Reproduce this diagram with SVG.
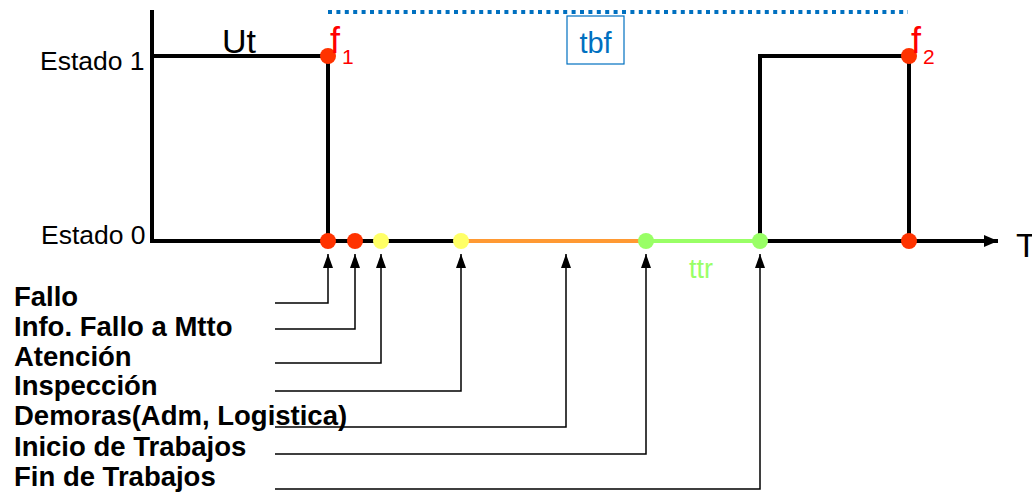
<svg xmlns="http://www.w3.org/2000/svg" width="1032" height="493" viewBox="0 0 1032 493">
<defs>
<marker id="ah" viewBox="0 0 14 10" refX="14" refY="5" markerWidth="14" markerHeight="10" markerUnits="userSpaceOnUse" orient="auto">
<path d="M0,0 L14,5 L0,10 Z" fill="#000"/>
</marker>
<marker id="ax" viewBox="0 0 14 12" refX="14" refY="6" markerWidth="14" markerHeight="12" markerUnits="userSpaceOnUse" orient="auto">
<path d="M0,0 L14,6 L0,12 Z" fill="#000"/>
</marker>
</defs>
<style>
.sig{fill:none;stroke:#000;stroke-width:4}
.con{fill:none;stroke:#000;stroke-width:1.5}
.lbl{font-family:"Liberation Sans",Arial,sans-serif;font-size:26.5px;fill:#000}
.ev{font-family:"Liberation Sans",Arial,sans-serif;font-size:27.5px;font-weight:bold;fill:#000}
.red{fill:#FF3300}
.yel{fill:#FFFF66}
.grn{fill:#99FF66}
.fl{font-family:"Liberation Sans",Arial,sans-serif;fill:#FF0000}
</style>
<rect width="1032" height="493" fill="#fff"/>
<g id="axes">
<line class="sig" x1="152" y1="10" x2="152" y2="243"/>
<line class="sig" x1="152" y1="241" x2="462" y2="241"/>
<line class="sig" x1="760" y1="241" x2="998" y2="241" marker-end="url(#ax)"/>
<text class="lbl" x="40" y="70">Estado 1</text>
<text class="lbl" x="41" y="244">Estado 0</text>
<text x="1016" y="257" font-family="Liberation Sans, Arial, sans-serif" font-size="34">T</text>
</g>
<g id="signal">
<polyline class="sig" points="152,56 328,56 328,241"/>
<polyline class="sig" points="760,241 760,56 909,56 909,241"/>
<text x="222" y="53" font-family="Liberation Sans, Arial, sans-serif" font-size="34">Ut</text>
</g>
<g id="repair">
<line x1="461" y1="241" x2="646" y2="241" stroke="#FF9933" stroke-width="4"/>
<line x1="646" y1="241" x2="760" y2="241" stroke="#99FF66" stroke-width="4"/>
<text x="689" y="278" font-family="Liberation Sans, Arial, sans-serif" font-size="27" fill="#99FF66">ttr</text>
</g>
<g id="tbf">
<line x1="328" y1="12" x2="908" y2="12" stroke="#0070C0" stroke-width="4" stroke-dasharray="4 4.4"/>
<rect x="567" y="16" width="57" height="48" fill="#fff" stroke="#0070C0" stroke-width="1.2"/>
<text x="595.5" y="53" text-anchor="middle" font-family="Liberation Sans, Arial, sans-serif" font-size="29" fill="#0070C0">tbf</text>
</g>
<g id="f1">
<circle class="red" cx="328" cy="56" r="8"/>
<text class="fl" x="330" y="53" font-size="36">f</text>
<text class="fl" x="342" y="64" font-size="21">1</text>
</g>
<g id="f2">
<circle class="red" cx="909" cy="56" r="8"/>
<text class="fl" x="911" y="53" font-size="36">f</text>
<text class="fl" x="923" y="64" font-size="21">2</text>
</g>
<g id="points">
<circle class="red" cx="328" cy="241" r="8"/>
<circle class="red" cx="355" cy="241" r="8"/>
<circle class="yel" cx="381" cy="241" r="8"/>
<circle class="yel" cx="461" cy="241" r="8"/>
<circle class="grn" cx="646" cy="241" r="8"/>
<circle class="grn" cx="760" cy="241" r="8"/>
<circle class="red" cx="909" cy="241" r="8"/>
</g>
<g id="connectors">
<polyline class="con" points="275,303 328,303 328,254" marker-end="url(#ah)"/>
<polyline class="con" points="275,329 355,329 355,254" marker-end="url(#ah)"/>
<polyline class="con" points="275,363 381,363 381,254" marker-end="url(#ah)"/>
<polyline class="con" points="275,391 461,391 461,254" marker-end="url(#ah)"/>
<polyline class="con" points="275,427 566,427 566,254" marker-end="url(#ah)"/>
<polyline class="con" points="275,454 646,454 646,254" marker-end="url(#ah)"/>
<polyline class="con" points="275,489 760,489 760,254" marker-end="url(#ah)"/>
</g>
<g id="labels">
<text class="ev" x="14" y="306">Fallo</text>
<text class="ev" x="14" y="336">Info. Fallo a Mtto</text>
<text class="ev" x="14" y="366">Atención</text>
<text class="ev" x="14" y="395">Inspección</text>
<text class="ev" x="14" y="425">Demoras(Adm, Logistica)</text>
<text class="ev" x="14" y="456">Inicio de Trabajos</text>
<text class="ev" x="14" y="486">Fin de Trabajos</text>
</g>
</svg>
